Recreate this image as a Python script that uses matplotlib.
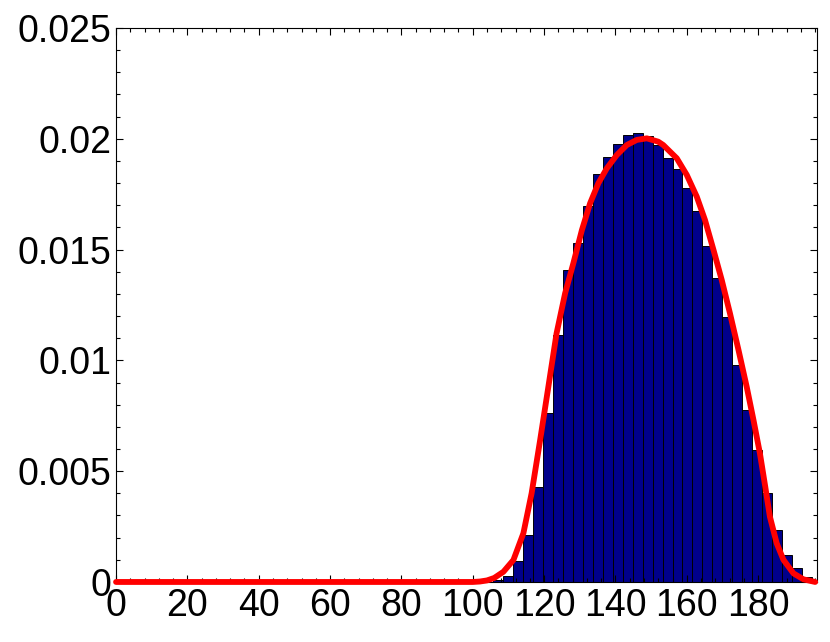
import numpy as np
import matplotlib
matplotlib.use("Agg")
import matplotlib.pyplot as plt
from matplotlib.ticker import MultipleLocator, FuncFormatter

# histogram (normalised density)
bin_edges = [105.6, 108.4, 111.2, 114.0, 116.8, 119.6, 122.4, 125.2, 128.0,
             130.8, 133.6, 136.4, 139.2, 142.0, 144.8, 147.6, 150.4, 153.2,
             156.0, 158.8, 161.6, 164.4, 167.2, 170.0, 172.8, 175.6, 178.4,
             181.2, 184.0, 186.8, 189.6, 192.4, 195.2]
density = [0.0001, 0.00025, 0.00096, 0.00212, 0.00429, 0.00761, 0.01115,
           0.01408, 0.01531, 0.01697, 0.01841, 0.01919, 0.01977, 0.02016,
           0.02028, 0.02013, 0.01972, 0.01912, 0.01862, 0.01777, 0.01676,
           0.01516, 0.0137, 0.01197, 0.00978, 0.00776, 0.00596, 0.00402,
           0.00235, 0.00122, 0.00061, 0.00024]

# fitted curve
fit_x = [0, 20, 40, 60, 80, 100, 102, 104, 106, 108.6, 111.4, 114.2,
         116.5, 118.9, 121.2, 123.5, 125.9, 128.2, 130.6, 132.9, 135.2,
         137.6, 140.4, 143.2, 146.0, 148.8, 152.0, 153.4, 157.2, 160.0,
         162.8, 165.1, 167.5, 169.8, 172.1, 174.5, 176.8, 178.7, 180.5,
         182.0, 183.3, 185.2, 187.1, 189.9, 192.7, 196.0]
fit_y = [0, 0, 0, 0, 0, 0, 0.00002, 0.00007, 0.00018, 0.00046, 0.00099,
         0.0022, 0.004, 0.00641, 0.00881, 0.01122, 0.01303, 0.01438,
         0.01588, 0.01709, 0.01799, 0.01867, 0.01927, 0.01972, 0.01995,
         0.02002, 0.01987, 0.01972, 0.01912, 0.01837, 0.01739, 0.01634,
         0.01498, 0.01363, 0.01213, 0.01047, 0.00881, 0.00731, 0.00581,
         0.0043, 0.00295, 0.00175, 0.001, 0.00039, 0.00012, 0.0]

plt.rcParams['font.family'] = ['Liberation Sans', 'DejaVu Sans']

fig = plt.figure(figsize=(8.3, 6.42), dpi=100)
ax = fig.add_axes([0.1398, 0.0935, 0.8445, 0.8629])

edges = np.array(bin_edges)
ax.bar(edges[:-1], density, width=np.diff(edges), align='edge',
       color='#00008B', edgecolor='black', linewidth=0.7)
ax.plot(fit_x, fit_y, color='#FF0000', linewidth=4.2, solid_capstyle='round',
        solid_joinstyle='round', clip_on=False, zorder=3)

ax.set_xlim(0, 196.5)
ax.set_ylim(0, 0.025)

ax.xaxis.set_major_locator(MultipleLocator(20))
ax.xaxis.set_minor_locator(MultipleLocator(4))
ax.yaxis.set_major_locator(MultipleLocator(0.005))
ax.yaxis.set_minor_locator(MultipleLocator(0.001))
ax.xaxis.set_major_formatter(FuncFormatter(lambda v, p: "%d" % v if v <= 180 else ""))
ax.yaxis.set_major_formatter(FuncFormatter(lambda v, p: "%g" % round(v, 4)))

ax.tick_params(which='both', direction='in', top=True, right=True,
               width=0.8, labelsize=27)
ax.tick_params(which='major', length=5)
ax.tick_params(which='minor', length=3)
ax.tick_params(axis='x', pad=4)
ax.tick_params(axis='y', pad=3)
for s in ax.spines.values():
    s.set_linewidth(0.8)

fig.savefig("out.png", dpi=100)
